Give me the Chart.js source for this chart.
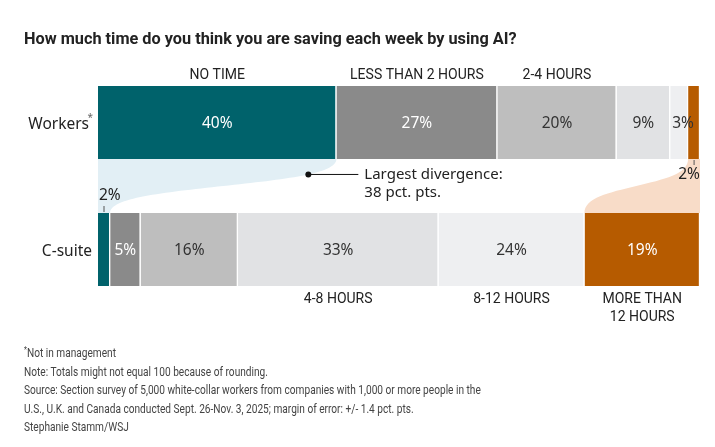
<!DOCTYPE html>
<html>
<head>
<meta charset="utf-8">
<script src="https://cdn.jsdelivr.net/npm/chart.js@4.4.1/dist/chart.umd.min.js"></script>
<style>
  body { margin: 0; background: #fff; }
  #wrap { position: relative; width: 715px; height: 447px; overflow: hidden; }
  #chart { position: absolute; left: 0; top: 0; }
  .title {
    position: absolute; left: 24px; top: 29px;
    font: bold 16.3px "Roboto", sans-serif;
    color: #222; white-space: nowrap;
  }
  .notes {
    position: absolute; left: 24px; top: 341px;
    font: 13.5px/18.6px "Roboto", sans-serif;
    color: #444; white-space: nowrap;
    transform: scaleX(0.75); transform-origin: left top;
  }
  .notes sup { font-size: 9px; vertical-align: 4px; }
</style>
</head>
<body>
<div id="wrap">
  <canvas id="chart" width="715" height="447"></canvas>
  <div class="title">How much time do you think you are saving each week by using AI?</div>
  <div class="notes">
    <sup>*</sup>Not in management<br>
    Note: Totals might not equal 100 because of rounding.<br>
    Source: Section survey of 5,000 white-collar workers from companies with 1,000 or more people in the<br>
    U.S., U.K. and Canada conducted Sept. 26-Nov. 3, 2025; margin of error: +/- 1.4 pct. pts.<br>
    Stephanie Stamm/WSJ
  </div>
</div>
<script>
// Survey answers
const groups = ['Workers', 'C-suite'];
const categories = ['NO TIME', 'LESS THAN 2 HOURS', '2-4 HOURS', '4-8 HOURS', '8-12 HOURS', 'MORE THAN 12 HOURS'];
const workers = [40, 27, 20, 9, 3, 2];
const csuite = [2, 5, 16, 33, 24, 19];

const colors = ['#00626b', '#8a8a8a', '#bebebe', '#e1e2e4', '#eeeff1', '#b65b00'];
const labelColors = ['#fff', '#fff', '#333', '#333', '#333', '#fff'];

// each row fills the full width (totals are 101 and 99)
const sum = arr => arr.reduce((a, b) => a + b, 0);
const share = arr => arr.map(v => v / sum(arr) * 100);
const workersShare = share(workers);
const csuiteShare = share(csuite);

const sans = '"Noto Sans", "Open Sans", sans-serif';

function bar(c, ds, row) {
    const el = c.getDatasetMeta(ds).data[row];
    return { left: Math.min(el.base, el.x), right: Math.max(el.base, el.x), top: el.y - el.height / 2, bottom: el.y + el.height / 2, y: el.y };
}

// control points of the first half of the S-curve between two bar edges
function curveA(x0, y0, x1, y1) {
    const W = x0 - x1, dy = y1 - y0, mx = (x0 + x1) / 2, my = (y0 + y1) / 2;
    return [[x0, y0], [x0, y0 + 0.28 * dy], [mx + 0.265 * W, my - 0.122 * dy], [mx, my]];
}

function sCurve(ctx, x0, y0, x1, y1) {
    const W = x0 - x1, dy = y1 - y0, mx = (x0 + x1) / 2, my = (y0 + y1) / 2;
    ctx.bezierCurveTo(x0, y0 + 0.28 * dy, mx + 0.265 * W, my - 0.122 * dy, mx, my);
    ctx.bezierCurveTo(mx - 0.265 * W, my + 0.122 * dy, x1, y1 - 0.28 * dy, x1, y1);
}

function bezierPoint(p, t) {
    const u = 1 - t;
    const k = [u * u * u, 3 * u * u * t, 3 * u * t * t, t * t * t];
    return [0, 1].map(j => k.reduce((s, w, i) => s + w * p[i][j], 0));
}

const divergencePlugin = {
    id: 'divergence',
    beforeDatasetsDraw(c) {
        const ctx = c.ctx;
        // light blue: NO TIME
        const a = bar(c, 0, 0), b = bar(c, 0, 1);
        ctx.save();
        ctx.fillStyle = '#e2eff5';
        ctx.beginPath();
        ctx.moveTo(a.left, a.bottom);
        ctx.lineTo(a.right, a.bottom);
        sCurve(ctx, a.right, a.bottom, b.right, b.top);
        ctx.lineTo(b.left, b.top);
        ctx.closePath();
        ctx.fill();

        // peach: MORE THAN 12 HOURS
        const p = bar(c, 5, 0), q = bar(c, 5, 1);
        ctx.fillStyle = '#f8dcc8';
        ctx.beginPath();
        ctx.moveTo(p.right, p.bottom);
        ctx.lineTo(p.left, p.bottom);
        sCurve(ctx, p.left, p.bottom, q.left, q.top);
        ctx.lineTo(q.right, q.top);
        ctx.closePath();
        ctx.fill();

        // annotation on the blue curve
        const [px, py] = bezierPoint(curveA(a.right, a.bottom, b.right, b.top), 0.45);
        ctx.fillStyle = '#111';
        ctx.strokeStyle = '#111';
        ctx.lineWidth = 1;
        ctx.beginPath();
        ctx.arc(px, py, 3, 0, Math.PI * 2);
        ctx.fill();
        ctx.beginPath();
        ctx.moveTo(px, py);
        ctx.lineTo(px + 50, py);
        ctx.stroke();
        ctx.font = '15px ' + sans;
        ctx.textBaseline = 'middle';
        ctx.textAlign = 'left';
        ctx.fillStyle = '#222';
        ctx.fillText('Largest divergence:', px + 56, py);
        ctx.fillText('38 pct. pts.', px + 56, py + 18);
        ctx.restore();
    },
    afterDatasetsDraw(c) {
        const ctx = c.ctx;
        ctx.save();
        ctx.textBaseline = 'middle';

        // row labels
        ctx.font = '15.5px ' + sans;
        ctx.fillStyle = '#222';
        ctx.textAlign = 'right';
        const w = bar(c, 0, 0), cs = bar(c, 0, 1);
        ctx.fillText(groups[0], w.left - 9, w.y + 2);
        ctx.font = '10px ' + sans;
        ctx.fillStyle = '#666';
        ctx.fillText('*', w.left - 5, w.y - 4);
        ctx.font = '15.5px ' + sans;
        ctx.fillStyle = '#222';
        ctx.fillText(groups[1], cs.left - 6, cs.y + 2);

        // value labels
        ctx.font = '15.5px ' + sans;
        const rows = [workers, csuite];
        rows.forEach((vals, r) => {
            vals.forEach((v, i) => {
                const s = bar(c, i, r);
                const txt = v + '%';
                if (s.right - s.left < 14) {
                    // too thin: label outside with a small tick
                    ctx.fillStyle = '#222';
                    ctx.strokeStyle = '#555';
                    ctx.beginPath();
                    if (r === 0) {
                        ctx.moveTo(s.left + 6, s.bottom + 1);
                        ctx.lineTo(s.left + 6, s.bottom + 6);
                        ctx.stroke();
                        ctx.textAlign = 'right';
                        ctx.fillText(txt, s.right, s.bottom + 16);
                    } else {
                        ctx.moveTo(s.left + 6, s.top - 1);
                        ctx.lineTo(s.left + 6, s.top - 7);
                        ctx.stroke();
                        ctx.textAlign = 'left';
                        ctx.fillText(txt, s.left + 1, s.top - 17);
                    }
                } else if (s.right - s.left < 26) {
                    ctx.fillStyle = labelColors[i];
                    ctx.textAlign = 'left';
                    ctx.fillText(txt, s.left + 2, s.y + 1);
                } else {
                    ctx.fillStyle = labelColors[i];
                    ctx.textAlign = 'center';
                    ctx.fillText(txt, (s.left + s.right) / 2, s.y + 1);
                }
            });
        });

        // category labels: first three above workers, last three below c-suite
        ctx.font = '14px Roboto, sans-serif';
        ctx.fillStyle = '#222';
        ctx.textAlign = 'center';
        categories.forEach((cat, i) => {
            if (i < 3) {
                const s = bar(c, i, 0);
                ctx.fillText(cat, (s.left + s.right) / 2, s.top - 11);
            } else {
                const s = bar(c, i, 1);
                const x = (s.left + s.right) / 2;
                if (cat.length > 12) {
                    ctx.fillText('MORE THAN', x, s.bottom + 13);
                    ctx.fillText('12 HOURS', x, s.bottom + 31);
                } else {
                    ctx.fillText(cat, x, s.bottom + 13);
                }
            }
        });
        ctx.restore();
    }
};

const chart = new Chart(document.getElementById('chart'), {
    type: 'bar',
    data: {
        labels: groups,
        datasets: categories.map((cat, i) => ({
            label: cat,
            data: [workersShare[i], csuiteShare[i]],
            backgroundColor: colors[i],
            borderColor: '#fff',
            borderWidth: { left: 0, right: 1.5, top: 0, bottom: 0 },
            borderSkipped: false,
            barThickness: 73
        }))
    },
    options: {
        indexAxis: 'y',
        responsive: false,
        animation: false,
        devicePixelRatio: 1,
        layout: { padding: { left: 98, right: 15, top: 59, bottom: 134 } },
        plugins: { legend: { display: false }, tooltip: { enabled: false } },
        scales: {
            x: { stacked: true, min: 0, max: 100, display: false },
            y: { stacked: true, display: false }
        }
    },
    plugins: [divergencePlugin]
});
</script>
</body>
</html>
